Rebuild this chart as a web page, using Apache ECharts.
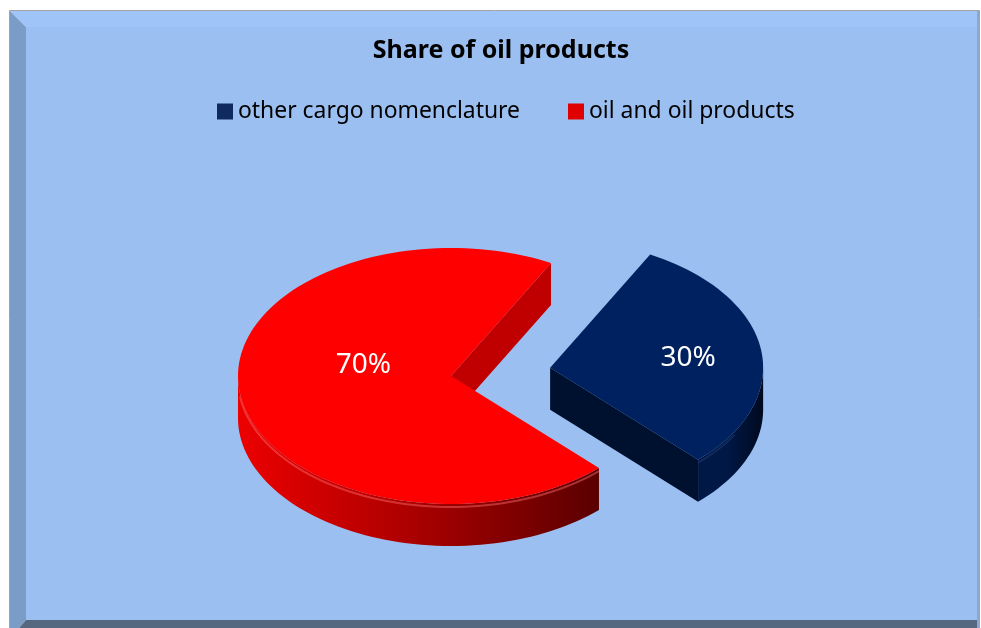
<!DOCTYPE html>
<html>
<head>
<meta charset="utf-8">
<script src="https://cdn.jsdelivr.net/npm/echarts@6/dist/echarts.min.js"></script>
<style>
  html, body { margin: 0; padding: 0; background: #fff; }
  #chart { width: 981px; height: 628px; }
</style>
</head>
<body>
<div id="chart"></div>
<script>
// data
var categories = ["other cargo nomenclature", "oil and oil products"];
var values = [30, 70];
var labels = ["30%", "70%"];

// look of the pie
var topColors = ["#00215f", "#ff0000"];
var wallColors = [["#001845", "#000a1f"], ["#ec0000", "#5a0000"]];
var cutColors = ["#00112f", "#c00000"];
var legendColors = ["#0f2a5e", "#e00000"];
var explode = [0.47, 0];          // share of radius
var labelShift = [[3, 2], [1, -18]];
var labelRadius = [0.64, 0.42];

var pieCx = 451, pieCy = 376, rx = 213, ry = 128, depth = 42;
var firstAngle = 28; // degrees clockwise from 12 o'clock

var total = values.reduce(function (s, v) { return s + v; }, 0);

function rad(d) { return d * Math.PI / 180; }
function pt(cx, cy, deg, dy) {
  return [cx + rx * Math.sin(rad(deg)), cy - ry * Math.cos(rad(deg)) + (dy || 0)];
}
function arcPts(cx, cy, a0, a1, dy) {
  var pts = [];
  var n = Math.max(2, Math.ceil(Math.abs(a1 - a0) / 2));
  for (var j = 0; j <= n; j++) pts.push(pt(cx, cy, a0 + (a1 - a0) * j / n, dy));
  return pts;
}

function renderSlice(i) {
  return function (params, api) {
    var start = firstAngle;
    for (var k = 0; k < i; k++) start += values[k] / total * 360;
    var end = start + api.value(0) / total * 360;
    var mid = (start + end) / 2;
    var cx = pieCx + explode[i] * rx * Math.sin(rad(mid));
    var cy = pieCy - explode[i] * ry * Math.cos(rad(mid));
    var kids = [];

    // outer wall, only the front half shows
    [[90, 270], [450, 630]].forEach(function (r) {
      var a0 = Math.max(start, r[0]), a1 = Math.min(end, r[1]);
      if (a1 <= a0) return;
      var top = arcPts(cx, cy, a0, a1, 0);
      var bot = arcPts(cx, cy, a0, a1, depth).reverse();
      kids.push({
        type: "polygon",
        shape: { points: top.concat(bot) },
        style: {
          fill: new echarts.graphic.LinearGradient(0, 0, 1, 0, [
            { offset: 0, color: wallColors[i][0] },
            { offset: 0.45, color: i === 1 ? "#b00000" : wallColors[i][0] },
            { offset: 1, color: wallColors[i][1] }
          ])
        }
      });
      kids.push({
        type: "polyline",
        shape: { points: arcPts(cx, cy, Math.max(a0, 120), Math.min(a1, 262), 3) },
        style: { stroke: i === 1 ? "rgba(255,110,110,0.45)" : "rgba(40,70,130,0.4)", lineWidth: 2, fill: null }
      });
    });

    // cut faces
    var c0 = [cx, cy], c1 = [cx, cy + depth];
    if (Math.cos(rad(start - 90)) < 0) {
      var p = pt(cx, cy, start), q = pt(cx, cy, start, depth);
      kids.push({ type: "polygon", shape: { points: [c0, p, q, c1] }, style: { fill: cutColors[i] } });
    }
    if (Math.cos(rad(end + 90)) < 0) {
      var p2 = pt(cx, cy, end), q2 = pt(cx, cy, end, depth);
      kids.push({ type: "polygon", shape: { points: [c0, p2, q2, c1] }, style: { fill: cutColors[i] } });
    }

    // top face
    kids.push({
      type: "polygon",
      shape: { points: [c0].concat(arcPts(cx, cy, start, end, 0)) },
      style: { fill: topColors[i] }
    });

    // label
    var lx = cx + labelRadius[i] * rx * Math.sin(rad(mid)) + labelShift[i][0];
    var ly = cy - labelRadius[i] * ry * Math.cos(rad(mid)) + labelShift[i][1];
    kids.push({
      type: "text",
      x: lx, y: ly,
      style: {
        text: labels[i], fill: "#fff", fontSize: 28, fontFamily: "Noto Sans",
        align: "center", verticalAlign: "middle"
      }
    });
    return { type: "group", children: kids };
  };
}

var series = categories.map(function (name, i) {
  return {
    name: name,
    type: "custom",
    coordinateSystem: "none",
    renderItem: renderSlice(i),
    itemStyle: { color: legendColors[i] },
    data: [[values[i]]]
  };
});

var chart = echarts.init(document.getElementById("chart"));
chart.setOption({
  animation: false,
  title: {
    text: "Share of oil products",
    left: 501,
    top: 38,
    textAlign: "center",
    padding: 0,
    textStyle: { color: "#000", fontSize: 25, fontWeight: "bold", fontFamily: "Noto Sans" }
  },
  legend: {
    data: categories,
    left: 217,
    top: 100,
    padding: 0,
    icon: "rect",
    itemWidth: 16,
    itemHeight: 16,
    itemGap: 48,
    textStyle: { color: "#000", fontSize: 22.9, fontFamily: "Noto Sans" }
  },
  graphic: [
    { type: "rect", z: -10, shape: { x: 26, y: 27, width: 951, height: 593 }, style: { fill: "#9bbff0" } },
    { type: "polygon", z: -10, shape: { points: [[10, 11], [979, 11], [977, 27], [26, 27]] }, style: { fill: "#9fc5f8" } },
    { type: "polygon", z: -10, shape: { points: [[10, 11], [26, 27], [26, 620], [19, 628], [10, 628]] }, style: { fill: "#7b9cc6" } },
    { type: "polygon", z: -10, shape: { points: [[26, 620], [977, 620], [979, 628], [19, 628]] }, style: { fill: "#55687f" } },
    { type: "rect", z: -10, shape: { x: 977, y: 11, width: 2, height: 617 }, style: { fill: "#8ca8cf" } },
    { type: "polyline", z: -10, shape: { points: [[9.5, 628], [9.5, 10.5], [979.5, 10.5], [979.5, 628]] }, style: { stroke: "#a3a3a3", lineWidth: 1, fill: null } }
  ],
  series: series
});
</script>
</body>
</html>
